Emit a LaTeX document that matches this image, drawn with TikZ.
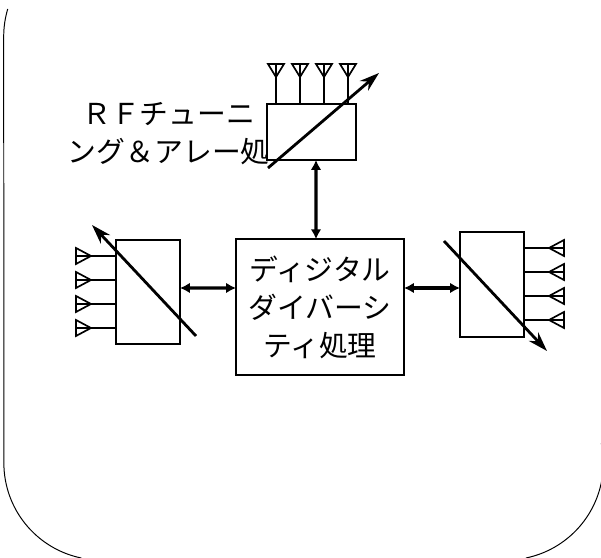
\documentclass[tikz,border=0pt]{standalone}
\usepackage{fontspec}
\setmainfont{Noto Sans CJK JP}
\usetikzlibrary{arrows.meta}
\tikzset{
	block/.style={draw,line width=1.4pt,inner sep=0pt,outer sep=0pt},
	label/.style={align=center,font=\fontsize{20.5}{27}\selectfont},
	antenna/.style={line width=1.2pt,line join=miter},
	tuner/.style={line width=2pt,-{Stealth[length=14pt,width=9pt]}},
	bus/.style={line width=2.4pt,{Latex[length=7pt,width=7.5pt]}-{Latex[length=7pt,width=7.5pt]}},
	frame/.style={line width=0.7pt}
}
\begin{document}
\begin{tikzpicture}
	\useasboundingbox (0,0) rectangle (15.025,13.95);
	% outer frame
	\draw[frame] (2.03,0) arc (258.3:180:2.425) -- (0.0925,13.035) arc (180:163.5:2.425);
	\draw[frame] (13.15,0) arc (-78.3:11.9:2.425);
	% blocks
	\node[block,minimum width=2.225cm,minimum height=1.4cm] (rf) at (7.79,10.65) {};
	\node[block,label,minimum width=4.2cm,minimum height=3.4cm] (dsp) at (8,6.27) {ディジタル\\ダイバーシ\\ティ処理};
	\node[block,minimum width=1.6cm,minimum height=2.6cm] (left) at (3.7,6.65) {};
	\node[block,minimum width=1.6cm,minimum height=2.625cm] (right) at (12.3,6.84) {};
	\node[label] (rflabel) at (4.22,10.62) {ＲＦチューニ\\ング＆アレー処};
	% antennas
	\foreach \x in {6.9,7.5,8.1,8.7}
		\draw[antenna] (\x,12.35) -- (\x,0 |- rf.north) (\x-0.2,12.35) -- (\x+0.2,12.35) -- (\x,12.025) -- cycle;
	\foreach \y in {7.55,6.95,6.35,5.75}
		\draw[antenna] (1.9,\y) -- (left.west |- 0,\y) (1.9,\y+0.2) -- (1.9,\y-0.2) -- (2.275,\y) -- cycle;
	\foreach \y in {7.75,7.15,6.55,5.95}
		\draw[antenna] (14.1,\y) -- (right.east |- 0,\y) (14.1,\y+0.2) -- (14.1,\y-0.2) -- (13.725,\y) -- cycle;
	% tunable arrows
	\draw[tuner] (6.7,9.75) -- (9.475,12.125);
	\draw[tuner] (4.9,5.55) -- (2.3,8.325);
	\draw[tuner] (11.1,7.925) -- (13.675,5.175);
	% links to the digital block
	\draw[bus] ([xshift=0.11cm]rf.south) -- ([xshift=-0.1cm]dsp.north);
	\draw[bus] ([yshift=0.1cm]left.east) -- ([yshift=0.48cm]dsp.west);
	\draw[bus] ([yshift=0.48cm]dsp.east) -- ([yshift=-0.09cm]right.west);
\end{tikzpicture}
\end{document}
